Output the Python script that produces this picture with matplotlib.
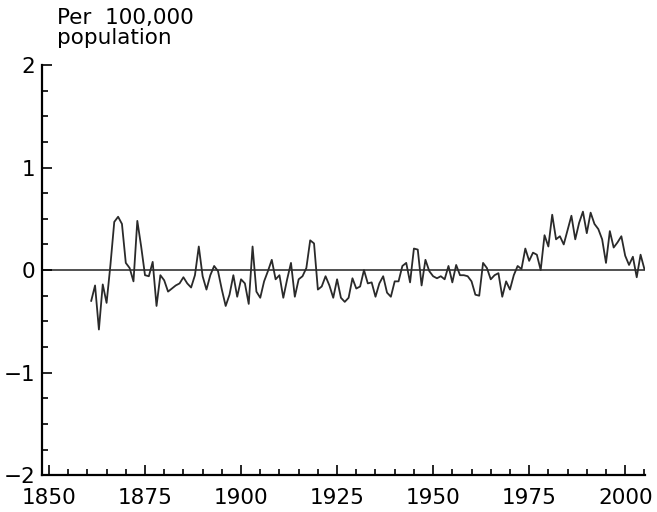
import numpy as np
import matplotlib
matplotlib.use("Agg")
import matplotlib.pyplot as plt
from matplotlib.ticker import MultipleLocator

years = np.arange(1861, 2006)
rate = [
    -0.30, -0.15, -0.58, -0.14, -0.32, 0.05, 0.47, 0.52, 0.45, 0.07,   # 1861-1870
    0.02, -0.11, 0.48, 0.23, -0.05, -0.06, 0.08, -0.35, -0.05, -0.10,  # 1871-1880
    -0.21, -0.18, -0.15, -0.13, -0.07, -0.13, -0.17, -0.05, 0.23, -0.06,  # 1881-1890
    -0.19, -0.05, 0.04, -0.01, -0.19, -0.35, -0.24, -0.05, -0.26, -0.09,  # 1891-1900
    -0.13, -0.33, 0.23, -0.21, -0.27, -0.11, -0.01, 0.10, -0.09, -0.05,  # 1901-1910
    -0.27, -0.09, 0.07, -0.26, -0.09, -0.06, 0.02, 0.29, 0.26, -0.19,  # 1911-1920
    -0.16, -0.06, -0.15, -0.27, -0.09, -0.27, -0.31, -0.27, -0.08, -0.18,  # 1921-1930
    -0.16, 0.00, -0.13, -0.12, -0.26, -0.13, -0.06, -0.22, -0.26, -0.11,  # 1931-1940
    -0.11, 0.04, 0.07, -0.12, 0.21, 0.20, -0.15, 0.10, -0.01, -0.06,  # 1941-1950
    -0.08, -0.06, -0.09, 0.04, -0.12, 0.05, -0.05, -0.05, -0.06, -0.11,  # 1951-1960
    -0.24, -0.25, 0.07, 0.02, -0.09, -0.05, -0.03, -0.26, -0.11, -0.19,  # 1961-1970
    -0.05, 0.04, 0.01, 0.21, 0.09, 0.17, 0.15, 0.00, 0.34, 0.23,  # 1971-1980
    0.54, 0.30, 0.33, 0.25, 0.39, 0.53, 0.30, 0.46, 0.57, 0.36,  # 1981-1990
    0.56, 0.45, 0.40, 0.30, 0.07, 0.38, 0.22, 0.27, 0.33, 0.14,  # 1991-2000
    0.05, 0.13, -0.07, 0.15, 0.01,  # 2001-2005
]

x_ticks = [1850, 1875, 1900, 1925, 1950, 1975, 2000]
y_ticks = [-2, -1, 0, 1, 2]

plt.rcParams['font.family'] = ['DejaVu Sans']
plt.rcParams['xtick.direction'] = 'in'
plt.rcParams['ytick.direction'] = 'in'

fig = plt.figure(figsize=(6.57, 5.12), dpi=100)
ax = fig.add_axes([0.064, 0.072, 0.918, 0.801])

ax.axhline(0, color='#222222', lw=1.1, zorder=1)
ax.plot(years, rate, color='#2a2a2a', lw=1.3, zorder=2)

ax.set_xlim(1848.2, 2005.2)
ax.set_ylim(-2, 2)
ax.set_xticks(x_ticks)
ax.set_yticks(y_ticks)
ax.xaxis.set_minor_locator(MultipleLocator(5))
ax.yaxis.set_minor_locator(MultipleLocator(0.25))

for s in ['top', 'right']:
    ax.spines[s].set_visible(False)
for s in ['left', 'bottom']:
    ax.spines[s].set_linewidth(1.6)
    ax.spines[s].set_color('black')

ax.tick_params(which='major', direction='in', length=7.5, width=1.2,
               labelsize=15.5, colors='black')
ax.tick_params(which='minor', direction='in', length=4, width=1.2)
ax.tick_params(axis='x', which='major', pad=9)
ax.tick_params(axis='y', which='major', pad=5)

fig.text(0.087, 0.985, "Per  100,000\npopulation", ha='left', va='top',
         fontsize=15.5, linespacing=1.0)

fig.savefig("out.png", dpi=100)
